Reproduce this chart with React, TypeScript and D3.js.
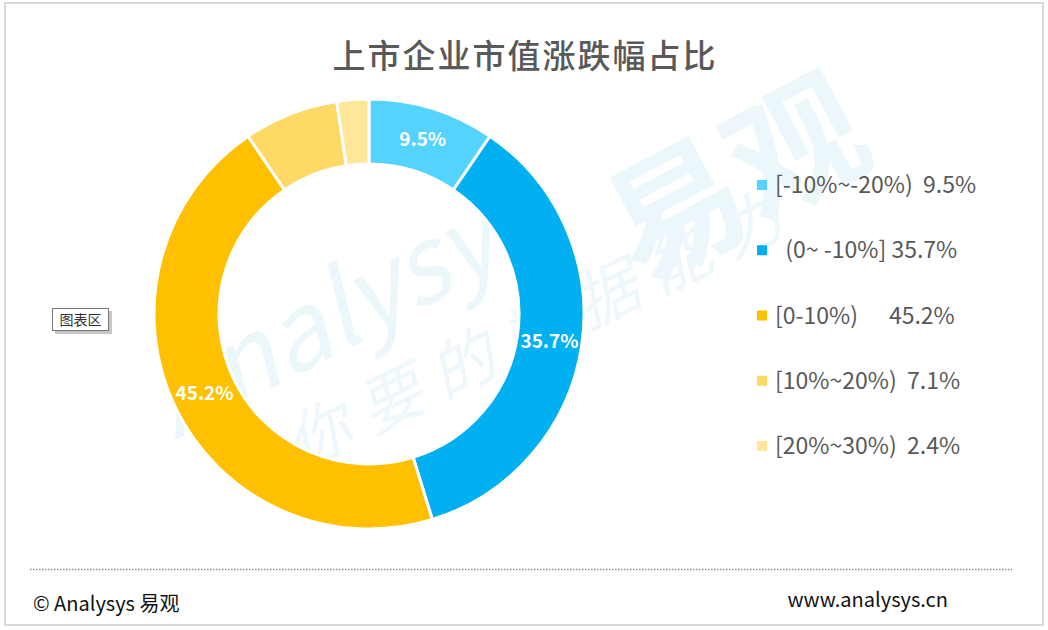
import * as d3 from 'd3';
import React, {useRef, useEffect} from 'react';

const categories = ["[-10%~-20%)", "(0~ -10%]", "[0-10%)", "[10%~20%)", "[20%~30%)"];
const legendTexts = ["[-10%~-20%)  9.5%", "  (0~ -10%] 35.7%", "[0-10%)      45.2%", "[10%~20%)  7.1%", "[20%~30%)  2.4%"];
const values = [9.5, 35.7, 45.2, 7.1, 2.4];
const colours = ["#55D3FF", "#00B0F0", "#FFC000", "#FFD966", "#FFE699"];
const showLabel = [true, true, true, false, false];

const W = 1048;
const H = 630;
const FONT = "'Noto Sans CJK SC', 'Noto Sans', sans-serif";

export default function App() {
  const ref = useRef<SVGSVGElement>(null);

  useEffect(() => {
    const svg = d3.select(ref.current);
    svg.selectAll("*").remove();

    // background + frame
    svg.append("rect")
      .attr("x", 5).attr("y", 3)
      .attr("width", 1038).attr("height", 622)
      .attr("fill", "#fff")
      .attr("stroke", "#d9d9d9")
      .attr("stroke-width", 2);

    // watermark
    svg.append("text")
      .attr("transform", "translate(175,440) rotate(-28)")
      .attr("font-family", FONT)
      .attr("font-size", 105)
      .attr("font-style", "italic")
      .attr("fill", "#ecf7fc")
      .text("Analysys");
    svg.append("text")
      .attr("transform", "translate(640,285) rotate(-28)")
      .attr("font-family", FONT)
      .attr("font-size", 135)
      .attr("font-weight", "bold")
      .attr("fill", "#ecf7fc")
      .text("易观");
    svg.append("text")
      .attr("transform", "translate(300,470) rotate(-26)")
      .attr("font-family", FONT)
      .attr("font-size", 64)
      .attr("letter-spacing", 16)
      .attr("font-style", "italic")
      .attr("fill", "#eef8fc")
      .text("你要的数据能力");

    // title
    svg.append("text")
      .attr("x", 525).attr("y", 68)
      .attr("text-anchor", "middle")
      .attr("font-family", FONT)
      .attr("font-size", 33)
      .attr("font-weight", 500)
      .attr("letter-spacing", 2)
      .attr("fill", "#595959")
      .text("上市企业市值涨跌幅占比");

    // donut
    const cx = 369, cy = 314, outer = 215, inner = 150;
    const pie = d3.pie<number>().sort(null).value(d => d);
    const arcs = pie(values);
    const arc = d3.arc<d3.PieArcDatum<number>>().innerRadius(inner).outerRadius(outer);
    const g = svg.append("g").attr("transform", `translate(${cx},${cy})`);

    g.selectAll("path")
      .data(arcs)
      .enter()
      .append("path")
      .attr("d", arc)
      .attr("fill", (_, i) => colours[i])
      .attr("stroke", "#fff")
      .attr("stroke-width", 3);

    g.selectAll("text.lbl")
      .data(arcs.filter((_, i) => showLabel[i]))
      .enter()
      .append("text")
      .attr("class", "lbl")
      .attr("transform", d => `translate(${arc.centroid(d)})`)
      .attr("text-anchor", "middle")
      .attr("dy", "0.35em")
      .attr("font-family", FONT)
      .attr("font-size", 19)
      .attr("font-weight", "bold")
      .attr("fill", "#fff")
      .text(d => `${d.data}%`);

    // legend
    const ly = d3.scalePoint<string>().domain(categories).range([185, 446]);
    const leg = svg.append("g");
    leg.selectAll("rect")
      .data(categories)
      .enter()
      .append("rect")
      .attr("x", 757)
      .attr("y", d => (ly(d) as number) - 5)
      .attr("width", 10).attr("height", 10)
      .attr("fill", (_, i) => colours[i]);
    leg.selectAll("text")
      .data(categories)
      .enter()
      .append("text")
      .attr("x", 775)
      .attr("y", d => (ly(d) as number) + 8)
      .attr("font-family", FONT)
      .attr("font-size", 23)
      .attr("fill", "#595959")
      .style("white-space", "pre")
      .text((_, i) => legendTexts[i]);

    // "图表区" tip
    svg.append("rect")
      .attr("x", 55).attr("y", 311)
      .attr("width", 57).attr("height", 23)
      .attr("fill", "#c8c8c8");
    svg.append("rect")
      .attr("x", 52.5).attr("y", 308.5)
      .attr("width", 56).attr("height", 22)
      .attr("fill", "#fff")
      .attr("stroke", "#767676");
    svg.append("text")
      .attr("x", 80.5).attr("y", 325)
      .attr("text-anchor", "middle")
      .attr("font-family", FONT)
      .attr("font-size", 14)
      .attr("fill", "#333")
      .text("图表区");

    // footer
    svg.append("line")
      .attr("x1", 30).attr("x2", 1012)
      .attr("y1", 569.5).attr("y2", 569.5)
      .attr("stroke", "#8c8c8c")
      .attr("stroke-width", 1.5)
      .attr("stroke-dasharray", "1.5,1.5");
    svg.append("text")
      .attr("x", 33).attr("y", 611)
      .attr("font-family", FONT)
      .attr("font-size", 20)
      .attr("fill", "#111")
      .text("© Analysys 易观");
    svg.append("text")
      .attr("x", 948).attr("y", 607)
      .attr("text-anchor", "end")
      .attr("font-family", FONT)
      .attr("font-size", 20)
      .attr("fill", "#111")
      .text("www.analysys.cn");
  }, []);

  return (
    <div style={{position: "absolute", left: 0, top: 0}}>
      <svg ref={ref} width={W} height={H} style={{display: "block"}}></svg>
    </div>
  );
}
